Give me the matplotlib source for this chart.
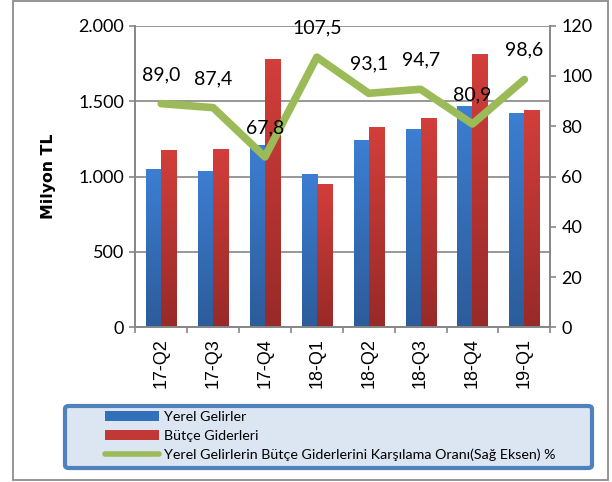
import numpy as np
import matplotlib
matplotlib.use('Agg')
import matplotlib.pyplot as plt
from matplotlib.colors import LinearSegmentedColormap
from matplotlib.patches import Rectangle, FancyBboxPatch
from matplotlib.lines import Line2D

categories = ['17-Q2', '17-Q3', '17-Q4', '18-Q1', '18-Q2', '18-Q3', '18-Q4', '19-Q1']
yerel_gelir = [1045, 1030, 1203, 1012, 1236, 1309, 1462, 1415]
butce_gider = [1170, 1176, 1774, 944, 1325, 1384, 1807, 1435]
oran = [89.0, 87.4, 67.8, 107.5, 93.1, 94.7, 80.9, 98.6]
oran_labels = ['89,0', '87,4', '67,8', '107,5', '93,1', '94,7', '80,9', '98,6']
left_ticks = [0, 500, 1000, 1500, 2000]
left_ticklabels = ['0', '500', '1.000', '1.500', '2.000']
right_ticks = [0, 20, 40, 60, 80, 100, 120]
legend_names = ['Yerel Gelirler', 'Bütçe Giderleri',
                'Yerel Gelirlerin Bütçe Giderlerini Karşılama Oranı(Sağ Eksen) %']

grey = '#868686'
green = '#9BBB59'
blue_cmap = LinearSegmentedColormap.from_list('b', ['#2C5C9A', '#3C7ED2'])
red_cmap = LinearSegmentedColormap.from_list('r', ['#982A28', '#D23E3A'])
txt_font = ['Lato', 'DejaVu Sans']

fig = plt.figure(figsize=(6.12, 4.82), dpi=100)
W, H = 612, 482
ax = fig.add_axes([135.3 / W, 1 - 327.3 / H, (550.3 - 135.3) / W, (327.3 - 25.7) / H])
ax2 = ax.twinx()

x = np.arange(len(categories))
bw = 0.29
grad = np.linspace(0, 1, 64).reshape(-1, 1)


def gradient_bars(axis, xs, vals, cmap):
    bars = axis.bar(xs, vals, bw, color='none', edgecolor='none', zorder=2)
    for r in bars:
        x0, w, h = r.get_x(), r.get_width(), r.get_height()
        axis.imshow(grad, cmap=cmap, origin='lower', aspect='auto',
                    extent=[x0, x0 + w, 0, h], zorder=2)
    return bars


gradient_bars(ax, x - bw / 2, yerel_gelir, blue_cmap)
gradient_bars(ax, x + bw / 2, butce_gider, red_cmap)

ax.set_xlim(-0.5, len(categories) - 0.5)
ax.set_ylim(0, 2000)
ax.set_yticks(left_ticks)
ax.set_yticklabels(left_ticklabels, fontsize=13, family=txt_font)
ax.yaxis.grid(True, color=grey, linewidth=1.2, zorder=0)
ax.set_axisbelow(True)
ax.set_xticks(x)
ax.set_xticklabels(categories, rotation=90, fontsize=13, family='Liberation Sans')
ax.set_xticks(np.arange(len(categories) + 1) - 0.5, minor=True)
ax.tick_params(axis='x', which='major', length=0, pad=8)
ax.tick_params(axis='x', which='minor', length=4.5, width=1.2, color=grey, direction='out')
ax.tick_params(axis='y', length=4, width=1.2, color=grey, pad=4)

for a in (ax, ax2):
    a.spines['top'].set_visible(False)
    for s in ('left', 'right', 'bottom'):
        a.spines[s].set_color(grey)
        a.spines[s].set_linewidth(1.2)

ax2.plot(x, oran, color=green, linewidth=5.5, solid_capstyle='round',
         solid_joinstyle='round', zorder=3)
for xi, v, lab in zip(x, oran, oran_labels):
    ax2.annotate(lab, (xi, v), xytext=(0, 21), textcoords='offset points',
                 ha='center', va='center', fontsize=14, family=txt_font)
ax2.set_ylim(0, 120)
ax2.set_yticks(right_ticks)
ax2.set_yticklabels([str(t) for t in right_ticks], fontsize=13, family=txt_font)
ax2.tick_params(axis='y', length=4, width=1.2, color=grey, pad=4)

fig.text(48 / W, 1 - 176 / H, 'Milyon TL', rotation=90, ha='center', va='center',
         fontsize=11.3, fontweight='bold', family='DejaVu Sans')

# outer border
fig.patches.append(Rectangle((13 / W, 1 - 480 / H), (608 - 13) / W, (479) / H,
                             transform=fig.transFigure, fill=False,
                             edgecolor='#8C8C8C', linewidth=1.3))
# legend box
fig.patches.append(FancyBboxPatch((65 / W, 1 - 468 / H), (592 - 65) / W, (468 - 406) / H,
                                  boxstyle='round,pad=0,rounding_size=0.006',
                                  transform=fig.transFigure, facecolor='#DCE6F2',
                                  edgecolor='#4F81BD', linewidth=3))
handles = [Rectangle((0, 0), 1, 1, facecolor='#3370BB'),
           Rectangle((0, 0), 1, 1, facecolor='#C23836'),
           Line2D([0], [0], color=green, linewidth=4, solid_capstyle='round')]
fig.legend(handles, legend_names, loc='upper left',
           bbox_to_anchor=(100 / W, 1 - 406 / H), frameon=False,
           prop={'family': txt_font, 'size': 10.3}, handlelength=3.8,
           handletextpad=0.35, labelspacing=0.47, borderpad=0.35, borderaxespad=0)

fig.savefig('out.png', dpi=100)
